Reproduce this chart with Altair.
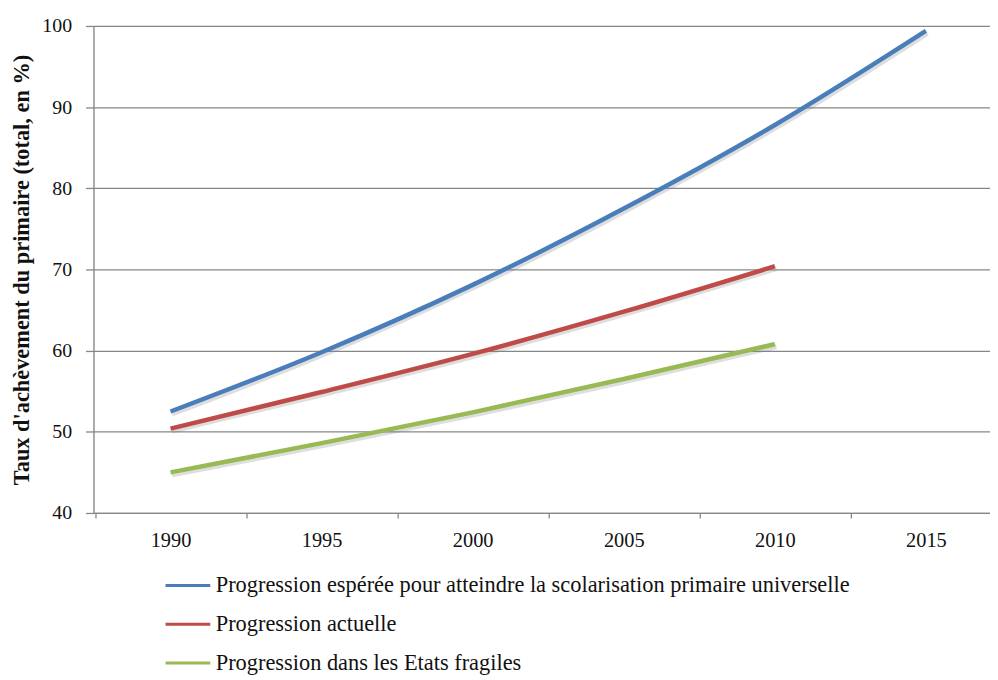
import altair as alt
import pandas as pd

series_names = [
    "Progression espérée  pour atteindre la scolarisation primaire universelle",
    "Progression actuelle",
    "Progression dans les Etats fragiles",
]
colors = ["#4a7ebb", "#be4b48", "#98b954"]

years_blue = [1990, 1995, 2000, 2005, 2010, 2015]
values_blue = [52.5, 59.8, 68.1, 77.5, 87.8, 99.4]

years_red = [1990, 1995, 2000, 2005, 2010]
values_red = [50.4, 54.9, 59.6, 64.8, 70.4]

years_green = [1990, 1995, 2000, 2005, 2010]
values_green = [45.0, 48.6, 52.4, 56.5, 60.8]

y_ticks = [40, 50, 60, 70, 80, 90, 100]
x_tick_values = [1987.5, 1990, 1992.5, 1995, 1997.5, 2000, 2002.5, 2005,
                 2007.5, 2010, 2012.5, 2015]

rows = []
for name, ys, vs in zip(series_names, [years_blue, years_red, years_green],
                        [values_blue, values_red, values_green]):
    for y, v in zip(ys, vs):
        rows.append({"serie": name, "annee": y, "taux": v})
df = pd.DataFrame(rows)

FONT = "Liberation Serif"
GRID = "#878787"

x_scale = alt.Scale(domain=[1987.45, 2017.12], nice=False, zero=False)
y_scale = alt.Scale(domain=[40, 100], nice=False, zero=False)

x_axis = alt.Axis(
    values=x_tick_values,
    labelExpr="datum.value % 5 === 0 ? '' + datum.value : ''",
    title=None,
    grid=False,
    tickSize=5,
    tickWidth=1.3,
    tickColor={"condition": {"test": "datum.value % 5 === 0", "value": "transparent"},
               "value": GRID},
    domainColor=GRID,
    domainWidth=1.3,
    labelFont=FONT,
    labelFontSize=20.5,
    labelColor="#111111",
    labelPadding=13,
    labelFlush=False,
    labelOverlap=False,
)

y_axis = alt.Axis(
    values=y_ticks,
    title="Taux d'achèvement  du primaire (total, en %)",
    titleFont=FONT,
    titleFontSize=22.5,
    titleFontWeight="bold",
    titleColor="#111111",
    titlePadding=8,
    grid=True,
    gridColor=GRID,
    gridWidth=1.3,
    tickSize=8,
    tickWidth=1.3,
    tickColor=GRID,
    domainColor=GRID,
    domainWidth=1.3,
    labelFont=FONT,
    labelFontSize=20,
    labelColor="#111111",
    labelPadding=14,
)

shadow = alt.Chart(df).mark_line(
    strokeWidth=5, color="#7a7a7a", opacity=0.25, xOffset=1.5, yOffset=2.5,
    interpolate="monotone", strokeCap="butt",
).encode(
    x=alt.X("annee:Q", scale=x_scale, axis=x_axis),
    y=alt.Y("taux:Q", scale=y_scale, axis=y_axis),
    detail="serie:N",
)

lines = alt.Chart(df).mark_line(
    strokeWidth=4.5, interpolate="monotone", strokeCap="butt",
).encode(
    x=alt.X("annee:Q", scale=x_scale, axis=x_axis),
    y=alt.Y("taux:Q", scale=y_scale, axis=y_axis),
    color=alt.Color(
        "serie:N",
        scale=alt.Scale(domain=series_names, range=colors),
        sort=series_names,
        legend=alt.Legend(
            title=None,
            orient="none",
            legendX=71,
            legendY=539,
            direction="vertical",
            symbolType="stroke",
            symbolSize=2025,
            symbolStrokeWidth=3,
            rowPadding=3,
            labelOffset=4,
            labelFont=FONT,
            labelFontSize=22.5,
            labelColor="#111111",
            labelLimit=900,
        ),
    ),
)

chart = alt.layer(shadow, lines).properties(
    width=902,
    height=490,
    autosize=alt.AutoSizeParams(type="none"),
    padding={"left": 86, "top": 16, "right": 0, "bottom": 168},
).configure_view(stroke=None).configure(background="white")

chart.save("out.html", embed_options={"renderer": "svg", "actions": False})
